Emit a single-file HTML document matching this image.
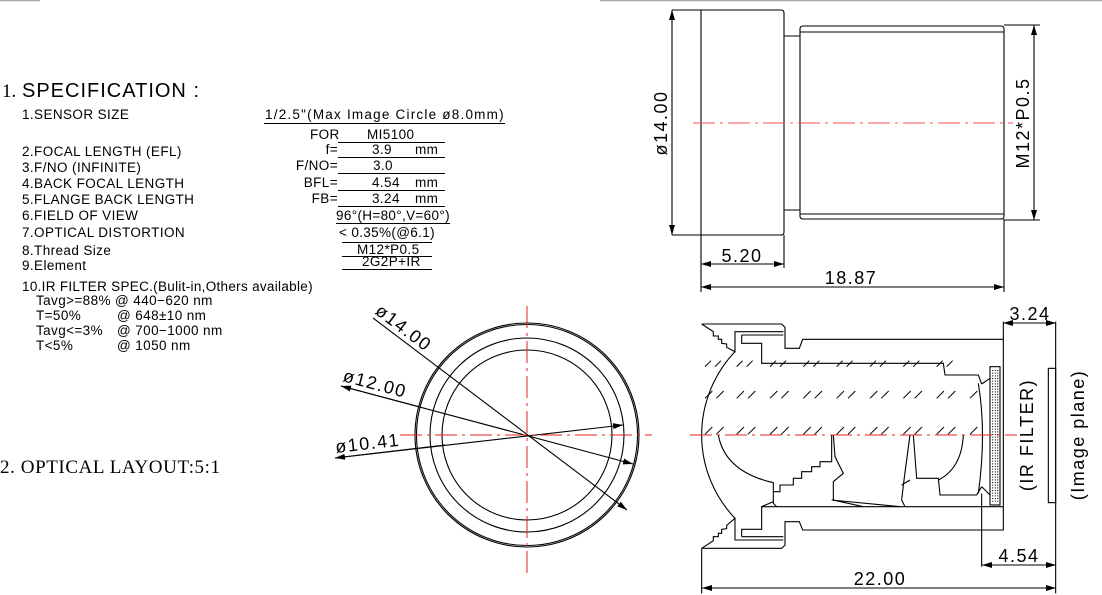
<!DOCTYPE html>
<html><head><meta charset="utf-8"><style>
html,body{margin:0;padding:0;background:#fff;}
svg{display:block;}
text{font-family:"Liberation Sans",sans-serif;fill:#000;}
.s{font-size:13.5px;letter-spacing:0.4px;}
.d{font-size:18px;letter-spacing:1.5px;}
</style></head><body>
<svg width="1102" height="595" viewBox="0 0 1102 595" xmlns="http://www.w3.org/2000/svg">
<defs>
<marker id="a" viewBox="0 0 10 6" refX="10" refY="3" markerWidth="10" markerHeight="6" markerUnits="userSpaceOnUse" orient="auto-start-reverse"><path d="M0,0 L10,3 L0,6z" fill="#000"/></marker>
</defs>
<line x1="0" y1="0.5" x2="40" y2="0.5" stroke="#aaa" stroke-width="1.5"/>
<line x1="600" y1="0.5" x2="1102" y2="0.5" stroke="#aaa" stroke-width="1.5"/>

<text x="2" y="97" style="font-family:'Liberation Serif',serif;font-size:19px">1.</text>
<text x="22" y="97" style="font-size:20px;letter-spacing:1px" textLength="178">SPECIFICATION  :</text>
<g class="s">
<text x="22" y="119">1.SENSOR SIZE</text>
<text x="22" y="156">2.FOCAL LENGTH (EFL)</text>
<text x="22" y="172">3.F/NO (INFINITE)</text>
<text x="22" y="188">4.BACK FOCAL LENGTH</text>
<text x="22" y="204">5.FLANGE BACK LENGTH</text>
<text x="22" y="220">6.FIELD OF VIEW</text>
<text x="22" y="237">7.OPTICAL DISTORTION</text>
<text x="22" y="255">8.Thread Size</text>
<text x="22" y="270">9.Element</text>
<text x="22" y="291" textLength="291">10.IR FILTER SPEC.(Bulit-in,Others available)</text>
<text x="36" y="305">Tavg&gt;=88% @ 440−620 nm</text>
<text x="36" y="320">T=50%</text><text x="117" y="320">@ 648±10 nm</text>
<text x="36" y="335">Tavg&lt;=3%</text><text x="117" y="335">@ 700−1000 nm</text>
<text x="36" y="350">T&lt;5%</text><text x="117" y="350">@ 1050 nm</text>

<text x="265" y="119" textLength="239">1/2.5"(Max Image Circle ø8.0mm)</text>
<text x="310" y="139">FOR</text><text x="367" y="139">MI5100</text>
<text x="338" y="154" text-anchor="end">f=</text><text x="372" y="154">3.9</text><text x="415" y="154">mm</text>
<text x="338" y="170" text-anchor="end">F/NO=</text><text x="373" y="170">3.0</text>
<text x="338" y="187" text-anchor="end">BFL=</text><text x="372" y="187">4.54</text><text x="415" y="187">mm</text>
<text x="338" y="203" text-anchor="end">FB=</text><text x="372" y="203">3.24</text><text x="415" y="203">mm</text>
<text x="336" y="220" textLength="114">96°(H=80°,V=60°)</text>
<text x="339" y="237" textLength="96">&lt; 0.35%(@6.1)</text>
<text x="357" y="254">M12*P0.5</text>
<text x="362" y="266">2G2P+IR</text>
</g>
<g stroke="#000" stroke-width="1">
<line x1="264" y1="123.5" x2="505" y2="123.5"/>
<line x1="338" y1="142.5" x2="445" y2="142.5"/>
<line x1="338" y1="157.5" x2="445" y2="157.5"/>
<line x1="338" y1="173.5" x2="445" y2="173.5"/>
<line x1="338" y1="190.5" x2="445" y2="190.5"/>
<line x1="338" y1="206.5" x2="445" y2="206.5"/>
<line x1="336" y1="223.5" x2="450" y2="223.5"/>
<line x1="342" y1="242.5" x2="432" y2="242.5"/>
<line x1="342" y1="256.5" x2="432" y2="256.5"/>
<line x1="342" y1="269.5" x2="432" y2="269.5"/>
</g>
<text x="0" y="473" style="font-family:'Liberation Serif',serif;font-size:19px" textLength="220">2. OPTICAL LAYOUT:5:1</text>

<g fill="none" stroke="#000" stroke-width="1.1">
<path d="M701,10 H781 Q784,10 784,13 V232 Q784,235 781,235 H701 Z"/>
<path d="M784,36 H800 M784,210 H800"/>
<path d="M803,26 H1001 Q1004,26 1004,29 V216 Q1004,219 1001,219 H803 Q800,219 800,216 V29 Q800,26 803,26 Z"/>
<path d="M800,32 H1004 M800,214 H1004"/>
<line x1="672" y1="10" x2="701" y2="10"/><line x1="672" y1="235" x2="701" y2="235"/>
<line x1="672" y1="10" x2="672" y2="235" marker-start="url(#a)" marker-end="url(#a)"/>
<line x1="1004" y1="25" x2="1040" y2="25"/><line x1="1004" y1="220" x2="1040" y2="220"/>
<line x1="1034" y1="25" x2="1034" y2="220" marker-start="url(#a)" marker-end="url(#a)"/>
<line x1="701" y1="235" x2="701" y2="292"/><line x1="784" y1="235" x2="784" y2="268"/>
<line x1="1004" y1="219" x2="1004" y2="292"/>
<line x1="701" y1="264" x2="784" y2="264" marker-start="url(#a)" marker-end="url(#a)"/>
<line x1="701" y1="287" x2="1004" y2="287" marker-start="url(#a)" marker-end="url(#a)"/>
</g>
<line x1="693" y1="123" x2="1013" y2="123" stroke="#f55" stroke-width="1" stroke-dasharray="22,5,3,5"/>
<text class="d" x="667" y="123" text-anchor="middle" transform="rotate(-90 667 123)">ø14.00</text>
<text class="d" x="1029" y="123" text-anchor="middle" transform="rotate(-90 1029 123)">M12*P0.5</text>
<text class="d" x="742" y="262" text-anchor="middle">5.20</text>
<text class="d" x="851" y="284" text-anchor="middle">18.87</text>

<g fill="none" stroke="#000" stroke-width="1.1">
<circle cx="527" cy="435" r="112"/><circle cx="527" cy="435" r="110.5"/>
<circle cx="527" cy="435" r="97"/><circle cx="527" cy="435" r="85"/>
<line x1="373" y1="318" x2="627" y2="510" marker-end="url(#a)"/>
<line x1="341" y1="386" x2="633" y2="464" marker-end="url(#a)"/>
<line x1="420" y1="407" x2="341" y2="386" marker-end="url(#a)"/>
<line x1="335" y1="458" x2="623" y2="425" marker-end="url(#a)"/>
<line x1="445" y1="445" x2="335" y2="458" marker-end="url(#a)"/>
</g>
<line x1="527" y1="306" x2="527" y2="574" stroke="#e22" stroke-dasharray="22,5,3,5"/>
<line x1="400" y1="435" x2="652" y2="435" stroke="#e22" stroke-dasharray="22,5,3,5"/>
<text class="d" x="374" y="313" transform="rotate(37 374 313)">ø14.00</text>
<text class="d" x="342" y="381" transform="rotate(15 342 381)">ø12.00</text>
<text class="d" x="336" y="453" transform="rotate(-6.5 336 453)">ø10.41</text>

<g transform="translate(680,300) scale(0.33333)" fill="none" stroke="#000" stroke-width="3.3">
<path d="M65,72 H305 L315,82 V145 H358 L368,118 H970 V690 H368 L358,665 H315 V735 L305,745 H65"/>
<path d="M65,72 L100,95 V108 L115,108 V118 L125,118 V130 L140,132 V142 L165,155 V95 H310"/>
<path d="M185,105 H310 M185,105 V130 H245 V190 H790 L795,225 H895 L905,252"/>
<path d="M65,745 L100,722 V710 L115,710 V700 L125,700 V688 L140,686 V676 L165,655 V720 H310"/>
<path d="M185,710 H310 M185,710 V688 H245 V620 H970"/>
<path d="M165,155 A362.5,362.5 0 0 0 165,655"/>
<path d="M115,405 Q135,515 280,548 V575 H300 V555 H340 V535 H365 V515 H395 V500 H420 V485 H455 V405"/>
<path d="M280,575 V610 L290,620 M245,620 L280,605"/>
<path d="M460,405 L465,470 L490,520 L460,545 V600 L550,620"/>
<path d="M455,600 L660,620"/>
<path d="M690,405 L672,540 L665,600 L675,620 M665,555 L690,540"/>
<path d="M700,405 L710,535 H775 L780,585 H890 L905,560"/>
<path d="M850,405 Q845,505 775,540"/>
<path d="M895,250 Q920,400 895,580 M905,252 L930,235 M905,560 L930,585"/>
<rect x="930" y="200" width="30" height="415"/>
<path d="M938,210 V605 M946,210 V605 M953,210 V605" stroke-dasharray="3,5"/>
<rect x="1105" y="205" width="22" height="403"/>
<path d="M970,65 V118 M1127,65 V880 M905,580 V800 M65,745 V880"/>
<g stroke-width="3">
<path d="M75,200 l18,-18 m12,18 l18,-18 M170,200 l18,-18 m12,18 l18,-18 M270,200 l18,-18 m12,18 l18,-18 M370,200 l18,-18 m12,18 l18,-18 M470,200 l18,-18 m12,18 l18,-18 M570,200 l18,-18 m12,18 l18,-18 M670,200 l18,-18 m12,18 l18,-18 M770,200 l18,-18 m12,18 l18,-18"/>
<path d="M75,295 l22,-22 m12,22 l22,-22 M170,295 l22,-22 m12,22 l22,-22 M270,295 l22,-22 m12,22 l22,-22 M370,295 l22,-22 m12,22 l22,-22 M470,295 l22,-22 m12,22 l22,-22 M570,295 l22,-22 m12,22 l22,-22 M670,295 l22,-22 m12,22 l22,-22 M770,295 l22,-22 m12,22 l22,-22 M870,295 l22,-22"/>
<path d="M75,403 l22,-22 m12,22 l22,-22 M170,403 l22,-22 m12,22 l22,-22 M270,403 l22,-22 m12,22 l22,-22 M370,403 l22,-22 m12,22 l22,-22 M470,403 l22,-22 m12,22 l22,-22 M570,403 l22,-22 m12,22 l22,-22 M670,403 l22,-22 m12,22 l22,-22 M770,403 l22,-22 m12,22 l22,-22 M870,403 l22,-22"/>
</g>
</g>
<line x1="690" y1="435" x2="1017" y2="435" stroke="#e22" stroke-dasharray="22,5,3,5"/>
<g fill="none" stroke="#000" stroke-width="1.1">
<line x1="1003" y1="323" x2="1056" y2="323" marker-start="url(#a)" marker-end="url(#a)"/>
<line x1="982" y1="565" x2="1056" y2="565" marker-start="url(#a)" marker-end="url(#a)"/>
<line x1="702" y1="588" x2="1056" y2="588" marker-start="url(#a)" marker-end="url(#a)"/>
</g>
<text class="d" x="1030" y="320" text-anchor="middle">3.24</text>
<text class="d" x="1019" y="562" text-anchor="middle">4.54</text>
<text class="d" x="880" y="585" text-anchor="middle">22.00</text>
<text class="d" x="1033" y="435" text-anchor="middle" transform="rotate(-90 1033 435)">(IR FILTER)</text>
<text class="d" x="1084" y="435" text-anchor="middle" transform="rotate(-90 1084 435)">(Image plane)</text>
</svg>
</body></html>
